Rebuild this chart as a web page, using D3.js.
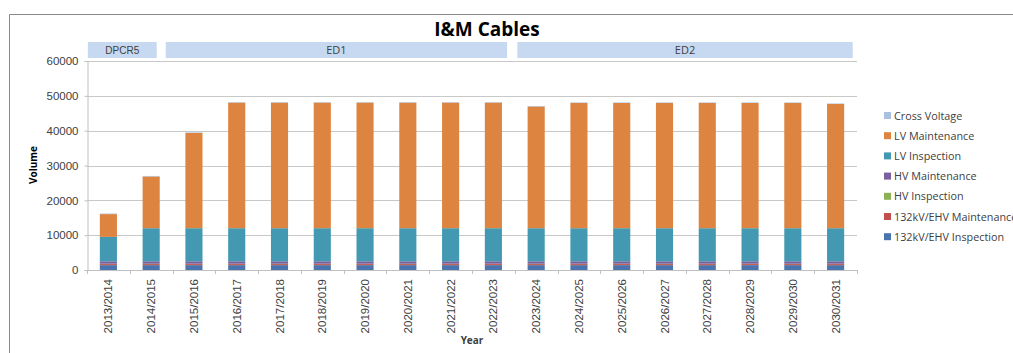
<!DOCTYPE html>
<html>
<head>
<meta charset="utf-8">
<script src="https://cdn.jsdelivr.net/npm/d3@7"></script>
<style>
  html, body { margin: 0; padding: 0; background: #fff; }
  svg { display: block; }
</style>
</head>
<body>
<svg id="chart" width="1013" height="353"></svg>
<script>
// Financial years on the category axis
const years = ["2013/2014","2014/2015","2015/2016","2016/2017","2017/2018","2018/2019",
  "2019/2020","2020/2021","2021/2022","2022/2023","2023/2024","2024/2025","2025/2026",
  "2026/2027","2027/2028","2028/2029","2029/2030","2030/2031"];

// Stacked series, bottom to top
const ehvInspection  = [1400,1400,1400,1400,1400,1400,1400,1400,1400,1400,1400,1400,1400,1400,1400,1400,1400,1400];
const ehvMaintenance = [300,300,300,300,300,300,300,300,300,300,300,300,300,300,300,300,300,300];
const hvInspection   = [100,100,100,100,100,100,100,100,100,100,100,100,100,100,100,100,100,100];
const hvMaintenance  = [700,700,700,700,700,700,700,700,700,700,700,700,700,700,700,700,700,700];
const lvInspection   = [7000,9500,9500,9500,9500,9500,9500,9500,9500,9500,9500,9500,9500,9500,9500,9500,9500,9500];
const lvMaintenance  = [6550,14850,27350,36050,36050,36050,36050,36050,36050,36050,34950,35950,35950,35950,35950,35950,35950,35650];
const crossVoltage   = [150,150,150,150,150,150,150,150,150,150,150,150,150,150,150,150,150,150];

const seriesNames = ["132kV/EHV Inspection","132kV/EHV Maintenance","HV Inspection",
  "HV Maintenance","LV Inspection","LV Maintenance","Cross Voltage"];
const seriesValues = [ehvInspection, ehvMaintenance, hvInspection, hvMaintenance,
  lvInspection, lvMaintenance, crossVoltage];
const seriesColors = ["#4a74ad","#c0504d","#8db255","#7a5f9e","#4399b1","#dd8441","#a9c0de"];

const yTicks = [0,10000,20000,30000,40000,50000,60000];

// Regulatory periods, spanning category positions (in category units)
const periodNames = ["DPCR5","ED1","ED2"];
const periodStart = [0.02, 1.84, 10.06];
const periodEnd   = [1.63, 9.82, 17.9];

const svg = d3.select("#chart");
const plot = { left: 87, right: 857, top: 61, bottom: 270 };

// Outer chart frame (left and top edges)
svg.append("path")
  .attr("d", "M9.5,353 V14.5 H1013")
  .attr("fill", "none").attr("stroke", "#8a8a8a").attr("stroke-width", 1);

const x = d3.scaleBand().domain(years).range([plot.left, plot.right])
  .paddingInner(0.6).paddingOuter(0.3);
const y = d3.scaleLinear().domain([0, 60000]).range([plot.bottom, plot.top]);

// Gridlines
svg.append("g").selectAll("line").data(yTicks.slice(1)).join("line")
  .attr("x1", plot.left).attr("x2", plot.right)
  .attr("y1", d => Math.round(y(d)) + 0.5).attr("y2", d => Math.round(y(d)) + 0.5)
  .attr("stroke", "#c8c8c8");

// Y axis
const yAxis = svg.append("g").attr("transform", `translate(${plot.left + 0.5},0)`)
  .call(d3.axisLeft(y).tickValues(yTicks).tickFormat(d3.format("d")).tickSize(3).tickPadding(6));
yAxis.select(".domain").attr("stroke", "#c0c0c0");
yAxis.selectAll(".tick line").attr("stroke", "#c0c0c0");
yAxis.selectAll("text").attr("font-family", "Liberation Sans, Arial, sans-serif")
  .attr("font-size", 11.5).attr("fill", "#404040");

// Stacked bars
const rows = years.map((yr, i) => {
  const r = { year: yr };
  seriesNames.forEach((s, k) => r[s] = seriesValues[k][i]);
  return r;
});
const stacked = d3.stack().keys(seriesNames)(rows);
svg.append("g").selectAll("g").data(stacked).join("g")
  .attr("fill", (d, i) => seriesColors[i])
  .selectAll("rect").data(d => d).join("rect")
  .attr("x", d => x(d.data.year))
  .attr("width", x.bandwidth())
  .attr("y", d => y(d[1]))
  .attr("height", d => Math.max(0, y(d[0]) - y(d[1])));

// X axis
const step = x.step();
const xAxisG = svg.append("g");
xAxisG.append("line")
  .attr("x1", plot.left).attr("x2", plot.right)
  .attr("y1", plot.bottom + 0.5).attr("y2", plot.bottom + 0.5)
  .attr("stroke", "#c0c0c0");
const boundaries = d3.range(years.length + 1).map(i => plot.left + i * step);
xAxisG.selectAll("line.tk").data(boundaries).join("line").attr("class", "tk")
  .attr("x1", d => Math.round(d) + 0.5).attr("x2", d => Math.round(d) + 0.5)
  .attr("y1", plot.bottom).attr("y2", plot.bottom + 4)
  .attr("stroke", "#c0c0c0");
xAxisG.selectAll("text").data(years).join("text")
  .attr("transform", d => `translate(${x(d) + x.bandwidth() / 2 + 4},${plot.bottom + 9}) rotate(-90)`)
  .attr("text-anchor", "end")
  .attr("font-family", "Liberation Sans, Arial, sans-serif")
  .attr("font-size", 11.5).attr("fill", "#404040")
  .text(d => d);

// Period bands above the plot
const periodX = v => plot.left + v * step;
const pg = svg.append("g");
periodNames.forEach((name, i) => {
  pg.append("rect")
    .attr("x", periodX(periodStart[i])).attr("y", 42)
    .attr("width", periodX(periodEnd[i]) - periodX(periodStart[i])).attr("height", 16)
    .attr("fill", "#c6d9f0");
  pg.append("text")
    .attr("x", (periodX(periodStart[i]) + periodX(periodEnd[i])) / 2).attr("y", 54)
    .attr("text-anchor", "middle")
    .attr("font-family", i === 0 ? "Liberation Sans, Arial, sans-serif" : "Open Sans, sans-serif")
    .attr("font-size", i === 0 ? 10 : 11).attr("fill", "#404040")
    .text(name);
});

// Title and axis titles
svg.append("text").attr("x", 487).attr("y", 36).attr("text-anchor", "middle")
  .attr("font-family", "Open Sans, sans-serif").attr("font-weight", "bold")
  .attr("font-size", 19).attr("fill", "#000").text("I&M Cables");
svg.append("text").attr("transform", "translate(37,165) rotate(-90)")
  .attr("text-anchor", "middle")
  .attr("font-family", "Open Sans, sans-serif").attr("font-weight", "bold")
  .attr("font-size", 10).attr("fill", "#000").text("Volume");
svg.append("text").attr("x", 472).attr("y", 344).attr("text-anchor", "middle")
  .attr("font-family", "Open Sans, sans-serif").attr("font-weight", "bold")
  .attr("font-size", 10).attr("fill", "#404040").text("Year");

// Legend, top entry is the top of the stack
const legendOrder = d3.range(seriesNames.length).reverse();
const lg = svg.append("g");
legendOrder.forEach((k, j) => {
  const ly = 116 + j * 20.2;
  lg.append("rect").attr("x", 884).attr("y", ly - 4).attr("width", 7).attr("height", 7)
    .attr("fill", seriesColors[k]);
  lg.append("text").attr("x", 894).attr("y", ly + 3.5)
    .attr("font-family", "Open Sans, sans-serif").attr("font-size", 10.8)
    .attr("fill", "#404040").text(seriesNames[k]);
});
</script>
</body>
</html>
